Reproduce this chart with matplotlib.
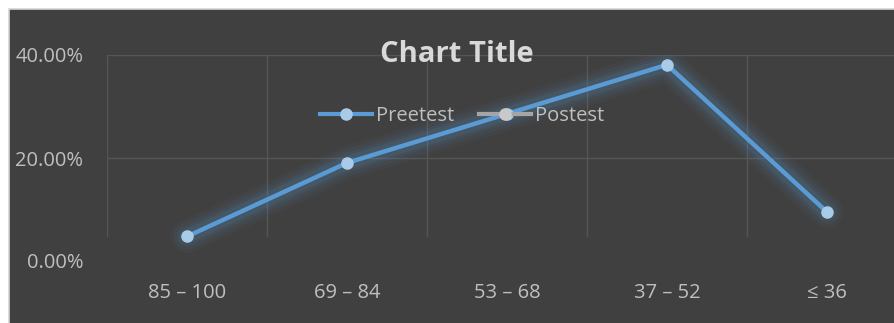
import matplotlib.pyplot as plt
from matplotlib.patches import Rectangle
from matplotlib.ticker import PercentFormatter
from matplotlib.lines import Line2D

categories = ["85 – 100", "69 – 84", "53 – 68", "37 – 52", "≤ 36"]
preetest = [0.0476, 0.1905, 0.2857, 0.3810, 0.0952]
postest = []
yticks = [0.0, 0.2, 0.4]

W, H = 894, 323
bg = "#404040"
grid_c = "#555555"
text_c = "#BFBFBF"
line_c = "#5B9BD5"
marker_c = "#A9CBEA"

plt.rcParams["font.family"] = ["Open Sans", "DejaVu Sans"]

fig = plt.figure(figsize=(W / 100, H / 100), dpi=100)
fig.patch.set_facecolor("white")

# dark chart area with thin light frame
fig.patches.append(Rectangle((8.5 / W, -0.01), 1.0, (H - 8.5) / H + 0.01,
                             transform=fig.transFigure, facecolor=bg,
                             edgecolor="#D4D4D4", linewidth=1.2, zorder=-5))

# plot area: x 107..907 px, y 55..261 px (right side runs off the figure)
ax = fig.add_axes([107 / W, (H - 261) / H, 800 / W, 206 / H])
ax.set_facecolor("none")
ax.set_zorder(1)
x = range(len(categories))
ax.set_xlim(-0.5, len(categories) - 0.5)
ax.set_ylim(0, 0.4)

for b in [k + 0.5 for k in range(-1, len(categories))]:
    ax.axvline(b, ymin=0.12, color=grid_c, lw=1, zorder=1)
for t in yticks[1:]:
    ax.axhline(t, color=grid_c, lw=1, zorder=1)

# glow
for lw, a in [(24, 0.04), (19, 0.06), (14, 0.08), (10, 0.11)]:
    ax.plot(x, preetest, color=line_c, lw=lw, alpha=a, solid_capstyle="round",
            solid_joinstyle="round", zorder=2)
ax.plot(x, preetest, color=line_c, lw=3.2, zorder=3)
ax.plot(x, preetest, ls="none", marker="o", ms=8, mfc=marker_c, mec=marker_c, zorder=4)

for s in ax.spines.values():
    s.set_visible(False)
ax.set_xticks(list(x))
ax.set_xticklabels(categories)
ax.set_yticks(yticks)
ax.yaxis.set_major_formatter(PercentFormatter(1.0, decimals=2))
ax.tick_params(length=0, colors=text_c, labelsize=14.5)
ax.tick_params(axis="x", pad=16)
ax.tick_params(axis="y", pad=17)

fig.text(457 / W, 1 - 54 / H, "Chart Title", ha="center", va="center",
         fontsize=21, fontweight="bold", color="#D9D9D9", zorder=5)

handles = [
    Line2D([], [], color=line_c, lw=3, marker="o", ms=8, mfc=marker_c, mec=marker_c),
    Line2D([], [], color="#A5A5A5", lw=3, marker="o", ms=8, mfc="#C9C9C9", mec="#C9C9C9"),
]
leg = fig.legend(handles, ["Preetest", "Postest"], loc="center", ncol=2,
                 bbox_to_anchor=(462 / W, 1 - 116 / H), frameon=False,
                 labelcolor=text_c, fontsize=14.5, handlelength=2.6,
                 handletextpad=0.2, columnspacing=1.2)
leg.set_zorder(5)

fig.savefig("out.png", dpi=100, facecolor=fig.get_facecolor())
